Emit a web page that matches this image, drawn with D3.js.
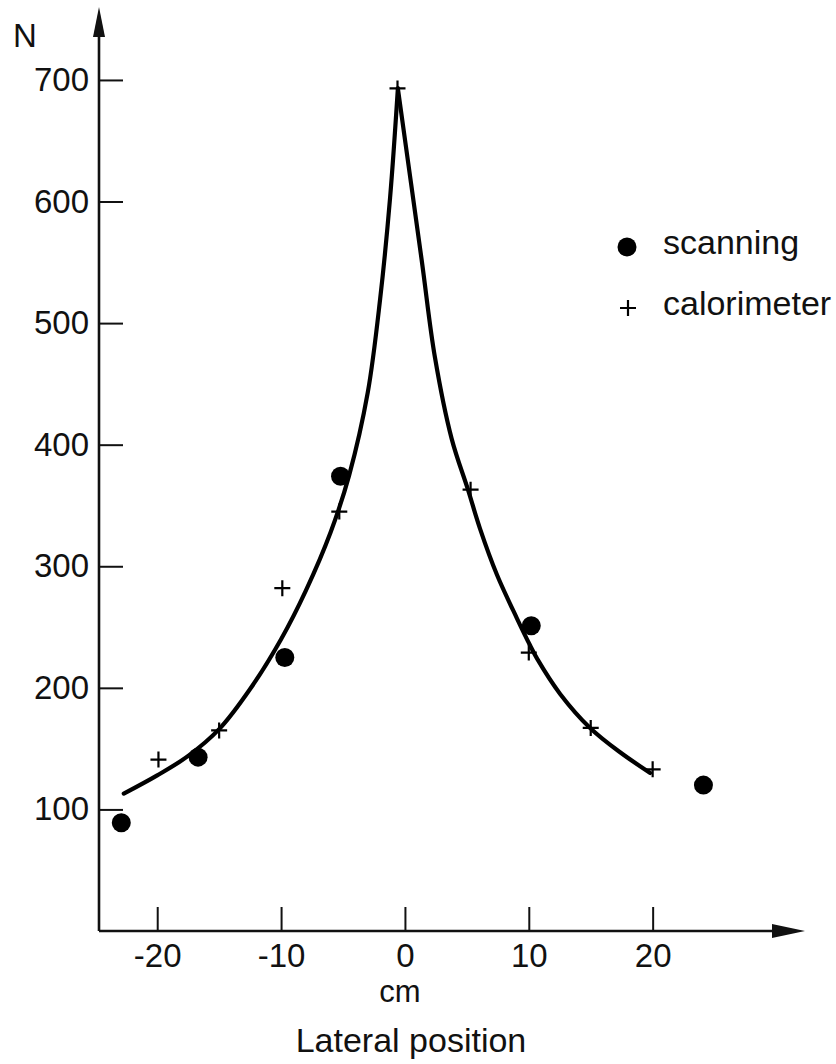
<!DOCTYPE html>
<html>
<head>
<meta charset="utf-8">
<script src="https://cdn.jsdelivr.net/npm/d3@7"></script>
<style>
  body { margin: 0; background: #fff; }
  text { font-family: "Liberation Sans", Arial, sans-serif; fill: #111; }
</style>
</head>
<body>
<div id="graph"></div>
<script>
// scanning points (filled dots)
var scanX = [-22.9, -16.7, -9.7, -5.2, 10.2, 24.1];
var scanN = [89, 143, 225, 374, 251, 120];

// calorimeter points (plus signs)
var calX = [-19.9, -15.0, -9.9, -5.3, -0.6, 5.3, 10.0, 15.0, 20.0];
var calN = [141, 165, 282, 345, 693, 363, 229, 167, 133];

// fitted curve: left branch up to the peak, right branch after it
var fitLeftX = [-22.7, -20, -17.5, -15, -12.5, -10, -8, -6, -4.5, -3, -2, -1.2, -0.57];
var fitLeftN = [113, 128, 144, 166, 199, 240, 280, 328, 375, 443, 520, 603, 693];
var fitRightX = [-0.57, 1.35, 2.42, 3.77, 5.09, 6.06, 7.43, 9.05, 10.1, 10.67, 12.53, 14.95, 17.37, 19.8];
var fitRightN = [693, 552, 472, 405, 363, 331, 293, 257, 235, 224, 195, 167, 147, 130];

var xTicks = [-20, -10, 0, 10, 20];
var yTicks = [100, 200, 300, 400, 500, 600, 700];
var xExtent = [-24.7, 32.3];
var yExtent = [0, 760];

var width = 836, height = 1064;
var svg = d3.select('#graph').append('svg').attr('width', width).attr('height', height);

var x = d3.scaleLinear().domain(xExtent).range([99, 805]);
var y = d3.scaleLinear().domain(yExtent).range([931, 7]);

// axes
var xAxis = d3.axisBottom(x).tickValues(xTicks).tickSize(-24).tickPadding(13)
  .tickFormat(function (d) { return d < 0 ? '-' + Math.abs(d) : d; });
var gx = svg.append('g').attr('transform', 'translate(0,' + y(0) + ')').call(xAxis);

var yAxis = d3.axisLeft(y).tickValues(yTicks).tickSize(-24).tickPadding(10);
var gy = svg.append('g').attr('transform', 'translate(' + x(xExtent[0]) + ',0)').call(yAxis);

[gx, gy].forEach(function (g) {
  g.select('.domain').remove();
  g.selectAll('.tick line').attr('stroke', '#111').attr('stroke-width', 2);
  g.selectAll('.tick text').style('font-size', '33px')
    .style('font-family', '"Liberation Sans", Arial, sans-serif').attr('fill', '#111');
});

// axis lines with arrowheads
var x0 = x(xExtent[0]), y0 = y(0);
var xEnd = x(xExtent[1]), yEnd = y(yExtent[1]);
svg.append('line').attr('x1', x0).attr('y1', y0).attr('x2', xEnd - 20).attr('y2', y0)
  .attr('stroke', '#111').attr('stroke-width', 2.6);
svg.append('line').attr('x1', x0).attr('y1', y0).attr('x2', x0).attr('y2', yEnd + 20)
  .attr('stroke', '#111').attr('stroke-width', 2.6);
svg.append('path')
  .attr('d', 'M' + xEnd + ',' + y0 + 'L' + (xEnd - 33) + ',' + (y0 - 7) + 'L' + (xEnd - 33) + ',' + (y0 + 7) + 'Z')
  .attr('fill', '#111');
svg.append('path')
  .attr('d', 'M' + x0 + ',' + yEnd + 'L' + (x0 - 6) + ',' + (yEnd + 30) + 'L' + (x0 + 6) + ',' + (yEnd + 30) + 'Z')
  .attr('fill', '#111');

// axis titles
svg.append('text').attr('x', 13).attr('y', 47).style('font-size', '33px').text('N');
svg.append('text').attr('x', x(0) - 5).attr('y', 1002).attr('text-anchor', 'middle')
  .style('font-size', '31px').text('cm');
svg.append('text').attr('x', 411).attr('y', 1052).attr('text-anchor', 'middle')
  .style('font-size', '34px').text('Lateral position');

// fitted curve, two branches meeting at the peak
var line = d3.line()
  .x(function (d) { return x(d[0]); })
  .y(function (d) { return y(d[1]); })
  .curve(d3.curveCatmullRom.alpha(0.5));
[[fitLeftX, fitLeftN], [fitRightX, fitRightN]].forEach(function (b) {
  var pts = b[0].map(function (d, i) { return [d, b[1][i]]; });
  svg.append('path').datum(pts).attr('d', line)
    .attr('fill', 'none').attr('stroke', '#000').attr('stroke-width', 4.2)
    .attr('stroke-linecap', 'round');
});

// scanning dots
svg.selectAll('circle.scan')
  .data(scanX.map(function (d, i) { return [d, scanN[i]]; }))
  .enter().append('circle').attr('class', 'scan')
  .attr('cx', function (d) { return x(d[0]); })
  .attr('cy', function (d) { return y(d[1]); })
  .attr('r', 9.5).attr('fill', '#000');

// calorimeter plus signs
var plus = 'M-8,0H8M0,-8V8';
svg.selectAll('path.cal')
  .data(calX.map(function (d, i) { return [d, calN[i]]; }))
  .enter().append('path').attr('class', 'cal')
  .attr('transform', function (d) { return 'translate(' + x(d[0]) + ',' + y(d[1]) + ')'; })
  .attr('d', plus).attr('stroke', '#000').attr('stroke-width', 2.2).attr('fill', 'none');

// legend
var legend = svg.append('g');
legend.append('circle').attr('cx', 627).attr('cy', 247).attr('r', 9.5).attr('fill', '#000');
legend.append('text').attr('x', 663).attr('y', 254).style('font-size', '34px').text('scanning');
legend.append('path').attr('transform', 'translate(628,308)').attr('d', plus)
  .attr('stroke', '#000').attr('stroke-width', 2.2).attr('fill', 'none');
legend.append('text').attr('x', 663).attr('y', 315).style('font-size', '34px').text('calorimeter');
</script>
</body>
</html>
